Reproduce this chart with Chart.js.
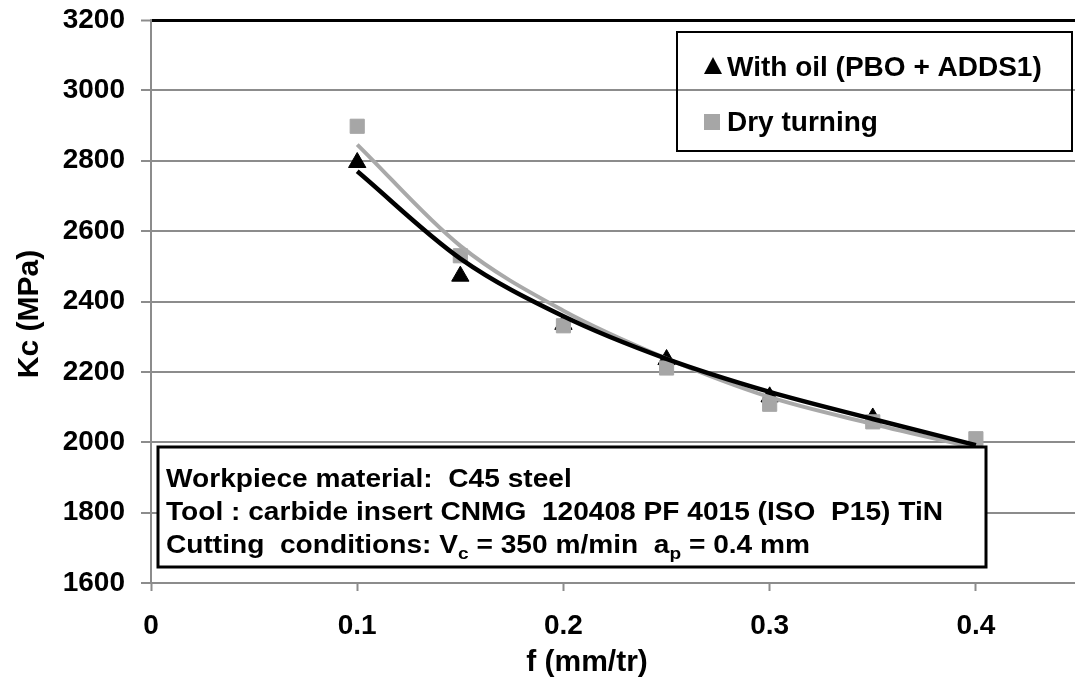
<!DOCTYPE html>
<html>
<head>
<meta charset="utf-8">
<script src="https://cdn.jsdelivr.net/npm/chart.js@4.4.0/dist/chart.umd.min.js"></script>
<style>
  html, body { margin: 0; padding: 0; background: #fff; overflow: hidden; }
  #wrap { width: 1075px; height: 691px; overflow: hidden; }
</style>
</head>
<body>
<div id="wrap"><canvas id="chart" width="1090" height="691"></canvas></div>
<script>
// feed rate f (mm/tr)
const feeds = [0.1, 0.15, 0.2, 0.25, 0.3, 0.35, 0.4];
// measured Kc (MPa)
const oilKc = [2795, 2472, 2335, 2235, 2129, 2069, 1990];
const dryKc = [2898, 2530, 2331, 2211, 2108, 2058, 2010];
// trend curves
const oilTrend = [2770, 2522, 2358, 2237, 2143, 2066, 1992];
const dryTrend = [2846, 2558, 2374, 2238, 2128, 2052, 1984];

const xTicks = [0, 0.1, 0.2, 0.3, 0.4];
const yTicks = [1600, 1800, 2000, 2200, 2400, 2600, 2800, 3000, 3200];

const seriesNames = ["With oil (PBO + ADDS1)", "Dry turning"];
const infoLines = [
    "Workpiece material:  C45 steel",
    "Tool : carbide insert CNMG  120408 PF 4015 (ISO  P15) TiN",
];
// third line has subscripts
const conditionParts = [
    { t: "Cutting  conditions: V" },
    { t: "c", sub: true },
    { t: " = 350 m/min  a" },
    { t: "p", sub: true },
    { t: " = 0.4 mm" },
];

const FONT = '"Liberation Sans", Arial, sans-serif';
const GREY = "#a6a6a6";
const GRID = "#8c8c8c";

const toPoints = (ys) => feeds.map((x, i) => ({ x: x, y: ys[i] }));

// legend, info box and axis titles drawn by hand
const decorPlugin = {
    id: "decor",
    afterDraw(chart) {
        const ctx = chart.ctx;
        ctx.save();

        // info box
        ctx.fillStyle = "#fff";
        ctx.fillRect(158, 447, 828, 120);
        ctx.lineWidth = 3;
        ctx.strokeStyle = "#000";
        ctx.strokeRect(158, 447, 828, 120);

        ctx.fillStyle = "#000";
        ctx.textAlign = "left";
        ctx.textBaseline = "alphabetic";
        const infoFont = 'bold 25px "Liberation Sans Narrow", ' + FONT;
        ctx.font = infoFont;
        const sx = 777 / ctx.measureText(infoLines[1]).width;
        ctx.save();
        ctx.translate(166, 0);
        ctx.scale(sx, 1);
        ctx.fillText(infoLines[0], 0, 487);
        ctx.fillText(infoLines[1], 0, 520);
        let cx = 0;
        conditionParts.forEach((p) => {
            ctx.font = p.sub ? 'bold 17px "Liberation Sans Narrow", ' + FONT : infoFont;
            ctx.fillText(p.t, cx, p.sub ? 559 : 553);
            cx += ctx.measureText(p.t).width;
        });
        ctx.restore();

        // legend
        ctx.lineWidth = 2;
        ctx.strokeRect(677, 32, 395, 119);
        ctx.fillStyle = "#000";
        ctx.beginPath();
        ctx.moveTo(713, 57);
        ctx.lineTo(722, 74);
        ctx.lineTo(704, 74);
        ctx.closePath();
        ctx.fill();
        ctx.fillStyle = GREY;
        ctx.fillRect(704, 114, 16, 16);
        ctx.fillStyle = "#000";
        ctx.font = "bold 28px " + FONT;
        ctx.fillText(seriesNames[0], 727, 76);
        ctx.fillText(seriesNames[1], 727, 131);

        // axis titles
        ctx.font = "bold 30px " + FONT;
        ctx.textAlign = "center";
        ctx.textBaseline = "middle";
        ctx.fillText("f (mm/tr)", 587, 663);
        ctx.translate(30, 314);
        ctx.rotate(-Math.PI / 2);
        ctx.fillText("Kc (MPa)", 0, 0);

        ctx.restore();
    },
};

new Chart(document.getElementById("chart"), {
    type: "scatter",
    data: {
        datasets: [
            {
                label: seriesNames[0],
                data: toPoints(oilKc),
                pointStyle: "triangle",
                pointRadius: 10,
                backgroundColor: "#000",
                borderColor: "#000",
                borderWidth: 1,
                order: 5,
            },
            {
                label: seriesNames[1],
                data: toPoints(dryKc),
                pointStyle: "rect",
                pointRadius: 10,
                backgroundColor: GREY,
                borderColor: GREY,
                borderWidth: 1,
                order: 4,
            },
            {
                label: "dry trend",
                data: toPoints(dryTrend),
                showLine: true,
                borderColor: "#a9a9a9",
                borderWidth: 4,
                pointRadius: 0,
                cubicInterpolationMode: "monotone",
                order: 2,
            },
            {
                label: "oil trend",
                data: toPoints(oilTrend),
                showLine: true,
                borderColor: "#000",
                borderWidth: 4.5,
                pointRadius: 0,
                cubicInterpolationMode: "monotone",
                order: 1,
            },
        ],
    },
    options: {
        responsive: false,
        animation: false,
        devicePixelRatio: 1,
        layout: { padding: { left: 0, right: 6, top: 20, bottom: 0 } },
        plugins: { legend: { display: false }, tooltip: { enabled: false } },
        scales: {
            x: {
                type: "linear",
                min: 0,
                max: 0.45,
                afterBuildTicks: (scale) => {
                    scale.ticks = xTicks.map((v) => ({ value: v }));
                },
                afterFit: (scale) => {
                    scale.height = 108;
                    scale.paddingLeft = 0;
                    scale.paddingRight = 0;
                },
                ticks: {
                    color: "#000",
                    font: { family: FONT, size: 28, weight: "bold" },
                    padding: 18,
                    maxRotation: 0,
                    callback: (v) => String(v),
                },
                grid: {
                    drawOnChartArea: false,
                    drawTicks: true,
                    tickLength: 8,
                    tickColor: GRID,
                    tickWidth: 2,
                },
                border: { color: GRID, width: 2 },
            },
            y: {
                min: 1600,
                max: 3200,
                afterBuildTicks: (scale) => {
                    scale.ticks = yTicks.map((v) => ({ value: v }));
                },
                afterFit: (scale) => {
                    scale.width = 151;
                    scale.paddingTop = 0;
                    scale.paddingBottom = 0;
                },
                ticks: {
                    color: "#000",
                    font: { family: FONT, size: 28, weight: "bold" },
                    padding: 16,
                    callback: (v) => String(v),
                },
                grid: {
                    color: (c) => (c.tick && c.tick.value === 3200 ? "#000" : GRID),
                    lineWidth: (c) => (c.tick && c.tick.value === 3200 ? 3 : 2),
                    tickLength: 10,
                    tickColor: GRID,
                    tickWidth: 2,
                },
                border: { color: GRID, width: 2 },
            },
        },
    },
    plugins: [decorPlugin],
});
</script>
</body>
</html>
